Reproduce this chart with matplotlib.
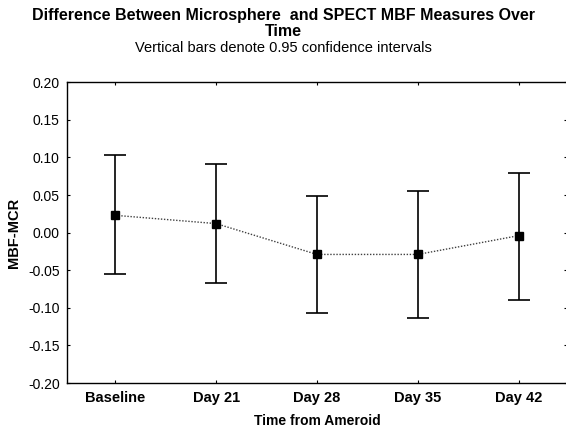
import matplotlib
matplotlib.use("Agg")
import matplotlib.pyplot as plt
import numpy as np

plt.rcParams["font.family"] = ["Liberation Sans", "DejaVu Sans"]

# ---- data -------------------------------------------------------------
categories = ["Baseline", "Day 21", "Day 28", "Day 35", "Day 42"]
means = [0.023, 0.012, -0.029, -0.029, -0.004]
ci_upper = [0.103, 0.091, 0.049, 0.055, 0.079]
ci_lower = [-0.055, -0.067, -0.107, -0.113, -0.090]
y_ticks = [-0.20, -0.15, -0.10, -0.05, 0.00, 0.05, 0.10, 0.15, 0.20]
y_tick_labels = ["-0.20", "-0.15", "-0.10", "-0.05", "0.00",
                 "0.05", "0.10", "0.15", "0.20"]

fig = plt.figure(figsize=(5.66, 4.28), dpi=100)
ax = fig.add_axes([0.118, 0.105, 0.884, 0.703])

x = np.arange(len(categories))
m = np.array(means)
yerr = [m - np.array(ci_lower), np.array(ci_upper) - m]

ax.plot(x, m, linestyle=(0, (1, 1.2)), color="0.25", linewidth=1.0, zorder=2)
ax.errorbar(x, m, yerr=yerr, fmt="none", ecolor="black", elinewidth=1.2,
            capsize=8, capthick=1.2, zorder=3)
ax.plot(x, m, "s", color="black", markersize=6, zorder=4)

ax.set_xlim(-0.48, 4.48)
ax.set_ylim(-0.20, 0.20)
ax.set_yticks(y_ticks)
ax.set_yticklabels(y_tick_labels, fontsize=10)
ax.set_xticks(x)
ax.set_xticklabels(categories, fontweight="bold", fontsize=10.5)
ax.tick_params(direction="in", length=2.5, width=0.8,
               top=True, right=True, pad=5)
ax.tick_params(axis="x", pad=6)
for sp in ax.spines.values():
    sp.set_linewidth(1.0)

ax.set_ylabel("MBF-MCR", fontsize=10.5, fontweight="bold", labelpad=5)
ax.set_xlabel("Time from Ameroid", fontsize=10, fontweight="bold", labelpad=6)

fig.text(0.5, 0.964, "Difference Between Microsphere  and SPECT MBF Measures Over",
         ha="center", va="center", fontsize=11.5, fontweight="bold")
fig.text(0.5, 0.926, "Time", ha="center", va="center", fontsize=11.5,
         fontweight="bold")
fig.text(0.5, 0.889, "Vertical bars denote 0.95 confidence intervals",
         ha="center", va="center", fontsize=10.5)

fig.savefig("out.png", dpi=100)
